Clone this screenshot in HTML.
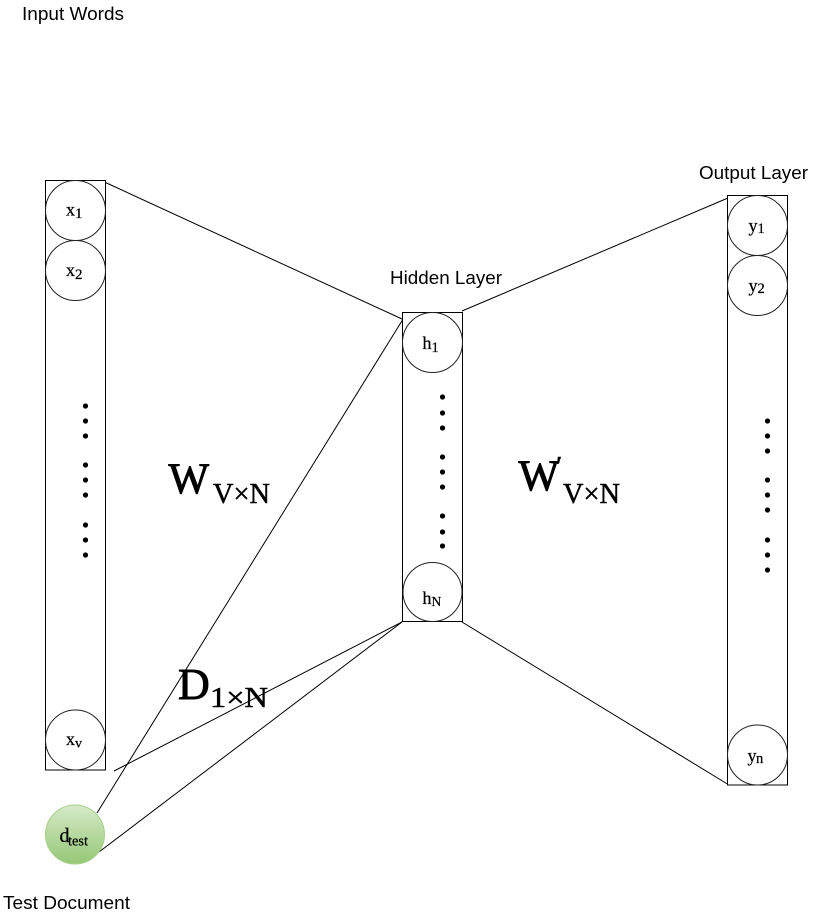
<!DOCTYPE html>
<html>
<head>
<meta charset="utf-8">
<style>
  html,body{margin:0;padding:0;background:#fff;}
  svg{display:block;}
  .sans{font-family:"Liberation Sans",Arial,sans-serif;font-size:18.5px;fill:#000;}
  .serif{font-family:"Liberation Serif","Times New Roman",serif;fill:#000;}
  .big{stroke:#000;stroke-width:0.9;}
  .sm{stroke:#000;stroke-width:0.25;}
</style>
</head>
<body>
<svg width="829" height="917" viewBox="0 0 829 917" xmlns="http://www.w3.org/2000/svg">
  <defs>
    <linearGradient id="g" x1="0" y1="0" x2="0" y2="1">
      <stop offset="0" stop-color="#d6eac8"/>
      <stop offset="1" stop-color="#95c877"/>
    </linearGradient>
  </defs>

  <!-- connectors -->
  <g stroke="#000" stroke-width="1" fill="none">
    <line x1="105.5" y1="182.5" x2="402" y2="319"/>
    <line x1="97" y1="813" x2="405" y2="316"/>
    <line x1="462" y1="311" x2="728" y2="198"/>
    <line x1="402" y1="622" x2="114" y2="771"/>
    <line x1="402" y1="622" x2="99" y2="852"/>
    <line x1="462" y1="622" x2="729" y2="785"/>
  </g>

  <!-- layer rectangles -->
  <g stroke="#000" stroke-width="1" fill="#fff">
    <rect x="45.5" y="180.5" width="60" height="589.5"/>
    <rect x="402.5" y="312.5" width="60" height="309"/>
    <rect x="727.5" y="195.5" width="60" height="589.5"/>
  </g>

  <!-- neurons -->
  <g stroke="#222" stroke-width="1" fill="#fff">
    <circle cx="75.5" cy="210.5" r="30"/>
    <circle cx="75.5" cy="270.5" r="30"/>
    <circle cx="75.5" cy="740" r="30"/>
    <circle cx="432.5" cy="342.5" r="30"/>
    <circle cx="432.5" cy="592" r="29.5"/>
    <circle cx="757.5" cy="225.5" r="30"/>
    <circle cx="757.5" cy="285.5" r="30"/>
    <circle cx="757.5" cy="755" r="30"/>
  </g>
  <circle cx="75" cy="834.5" r="29.5" fill="url(#g)" stroke="#a6cf8c" stroke-width="1"/>

  <!-- dots -->
  <g fill="#000">
    <circle cx="85.5" cy="406" r="2.6"/><circle cx="85.5" cy="421" r="2.6"/><circle cx="85.5" cy="436" r="2.6"/>
    <circle cx="85.5" cy="465" r="2.6"/><circle cx="85.5" cy="480" r="2.6"/><circle cx="85.5" cy="495" r="2.6"/>
    <circle cx="85.5" cy="525" r="2.6"/><circle cx="85.5" cy="540" r="2.6"/><circle cx="85.5" cy="555" r="2.6"/>

    <circle cx="442.5" cy="397" r="2.6"/><circle cx="442.5" cy="413" r="2.6"/><circle cx="442.5" cy="428" r="2.6"/>
    <circle cx="442.5" cy="457" r="2.6"/><circle cx="442.5" cy="472" r="2.6"/><circle cx="442.5" cy="487" r="2.6"/>
    <circle cx="442.5" cy="516" r="2.6"/><circle cx="442.5" cy="532" r="2.6"/><circle cx="442.5" cy="546" r="2.6"/>

    <circle cx="767.5" cy="421" r="2.6"/><circle cx="767.5" cy="436" r="2.6"/><circle cx="767.5" cy="451" r="2.6"/>
    <circle cx="767.5" cy="480" r="2.6"/><circle cx="767.5" cy="495" r="2.6"/><circle cx="767.5" cy="510" r="2.6"/>
    <circle cx="767.5" cy="540" r="2.6"/><circle cx="767.5" cy="555" r="2.6"/><circle cx="767.5" cy="570" r="2.6"/>
  </g>

  <!-- sans labels -->
  <text class="sans" x="22" y="20" textLength="102" lengthAdjust="spacingAndGlyphs">Input Words</text>
  <text class="sans" x="390" y="284" textLength="112" lengthAdjust="spacingAndGlyphs">Hidden Layer</text>
  <text class="sans" x="699" y="179" textLength="109" lengthAdjust="spacingAndGlyphs">Output Layer</text>
  <text class="sans" x="3" y="909" textLength="127" lengthAdjust="spacingAndGlyphs">Test Document</text>

  <!-- node labels -->
  <g class="serif sm">
    <text x="66" y="215.5" font-size="18">x</text><text x="75" y="218" font-size="15">1</text>
    <text x="66" y="276" font-size="18">x</text><text x="75" y="279" font-size="15">2</text>
    <text x="66" y="745" font-size="18">x</text><text x="75" y="747.5" font-size="14">v</text>

    <text x="422.5" y="349" font-size="18">h</text><text x="431.5" y="352" font-size="14.5">1</text>
    <text x="422.5" y="604" font-size="18">h</text><text x="431.5" y="606" font-size="13.5">N</text>

    <text x="748.5" y="231.5" font-size="18">y</text><text x="757.5" y="233" font-size="14.5">1</text>
    <text x="748.5" y="291.5" font-size="18">y</text><text x="757.5" y="293" font-size="14.5">2</text>
    <text x="747.5" y="761.5" font-size="18">y</text><text x="756" y="763" font-size="14.5">n</text>

    <text x="59.5" y="842" font-size="20">d</text>
    <text x="68" y="845.5" font-size="15" textLength="20" lengthAdjust="spacingAndGlyphs">test</text>
  </g>

  <!-- matrix labels -->
  <g class="serif big">
    <text x="168.5" y="493" font-size="43">W</text>
    <text x="213" y="503" font-size="29" textLength="57" lengthAdjust="spacingAndGlyphs" stroke-width="0.5">V×N</text>

    <text x="518.5" y="490" font-size="43">W</text>
    <text x="556" y="476" font-size="28" stroke-width="0.6">′</text>
    <text x="563" y="503" font-size="29" textLength="57" lengthAdjust="spacingAndGlyphs" stroke-width="0.5">V×N</text>

    <text x="178" y="699" font-size="44">D</text>
    <text x="210" y="707" font-size="29" textLength="58" lengthAdjust="spacingAndGlyphs" stroke-width="0.5">1×N</text>
  </g>
</svg>
</body>
</html>
